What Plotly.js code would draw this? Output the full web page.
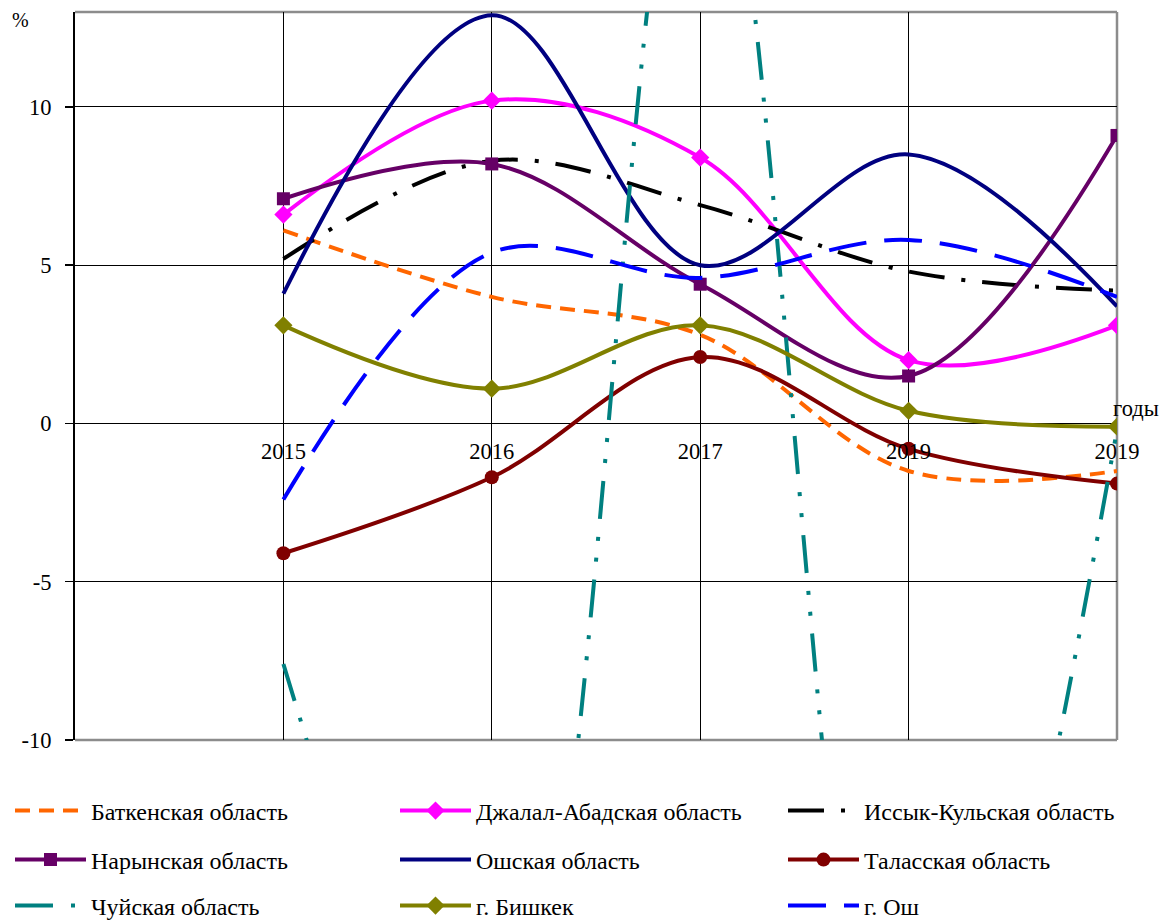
<!DOCTYPE html>
<html>
<head>
<meta charset="utf-8">
<script src="https://cdn.plot.ly/plotly-3.0.1.min.js"></script>
<style>
  html, body { margin: 0; padding: 0; background: #ffffff; }
  #chart { width: 1173px; height: 921px; }
</style>
</head>
<body>
<div id="chart"></div>
<script>
// Tick labels of the category axis (as printed in the source)
const years = ['2015', '2016', '2017', '2019', '2019'];

// Series values, %
const batken     = [6.1, 4.0, 2.8, -1.5, -1.5];
const jalalabad  = [6.6, 10.2, 8.4, 2.0, 3.1];
const issykkul   = [5.2, 8.3, 6.9, 4.8, 4.2];
const naryn      = [7.1, 8.2, 4.4, 1.5, 9.1];
const osh_obl    = [4.1, 12.9, 5.0, 8.5, 3.7];
const talas      = [-4.1, -1.7, 2.1, -0.8, -1.9];
const chui       = [-7.6, -23.0, 21.4, -26.0, -0.2];
const bishkek    = [3.1, 1.1, 3.1, 0.4, -0.1];
const osh_city   = [-2.4, 5.4, 4.6, 5.8, 4.0];

const seriesNames = [
  'Баткенская область', 'Джалал-Абадская область', 'Иссык-Кульская область',
  'Нарынская область', 'Ошская область', 'Таласская область',
  'Чуйская область', 'г. Бишкек', 'г. Ош'
];

const xIdx = years.map((_, i) => i + 1);
const FONT = "'Liberation Serif', 'Times New Roman', 'DejaVu Serif', serif";
const FS = 22.5;

// plot area in pixels (for placing layout elements)
const PL = 75, PR = 1117, PT = 12, PB = 740;
const px2x = p => (p - PL) / (PR - PL);
const px2y = p => (PB - p) / (PB - PT);

function tr(i, y, color, dash, marker) {
  const t = {
    type: 'scatter',
    x: xIdx, y: y, name: seriesNames[i],
    mode: marker ? 'lines+markers' : 'lines',
    line: { color: color, width: 4, shape: 'spline', smoothing: 1, dash: dash },
    legend: i === 0 ? 'legend' : 'legend' + (i + 1)
  };
  if (marker) t.marker = Object.assign({ color: color, line: { width: 0 } }, marker);
  return t;
}

const data = [
  tr(0, batken,    '#FF6600', '15px,9px', null),
  tr(1, jalalabad, '#FF00FF', 'solid', { symbol: 'diamond', size: 14 }),
  tr(2, issykkul,  '#000000', '36px,17px,4px,17px', null),
  tr(3, naryn,     '#660066', 'solid', { symbol: 'square', size: 13 }),
  tr(4, osh_obl,   '#000080', 'solid', null),
  tr(5, talas,     '#800000', 'solid', { symbol: 'circle', size: 14 }),
  tr(6, chui,      '#008080', '38px,18px,4px,17px,4px,18px', null),
  tr(7, bishkek,   '#808000', 'solid', { symbol: 'diamond', size: 14 }),
  tr(8, osh_city,  '#0000FF', '38px,18px', null),
  // empty helper trace so the overlay axes (labels at zero line, inner grid) are drawn
  { type: 'scatter', x: [], y: [], xaxis: 'x2', yaxis: 'y2', showlegend: false, hoverinfo: 'skip' }
];

const yMin = -10, yMax = 13;
const zeroFrac = (0 - yMin) / (yMax - yMin);

// legend grid: 3 columns (text start px) x 3 rows (centre px)
const colTextPx = [92, 477, 865];
const rowPx = [811, 860, 906];
const ITEMW = 71;

const layout = {
  width: 1173, height: 921,
  margin: { l: PL, r: 1173 - PR, t: PT, b: 921 - PB, autoexpand: false },
  paper_bgcolor: '#ffffff', plot_bgcolor: '#ffffff',
  font: { family: FONT, size: FS, color: '#000' },
  showlegend: true,
  xaxis: {
    range: [0, 5], tickvals: [1, 2, 3, 4], showticklabels: false, ticks: '',
    showgrid: true, gridcolor: '#000000', gridwidth: 1, zeroline: false, showline: false
  },
  xaxis2: {
    overlaying: 'x', anchor: 'free', position: zeroFrac, side: 'bottom',
    range: [0, 5], tickvals: xIdx, ticktext: years, ticks: '',
    ticklabelstandoff: 12,
    showgrid: false, zeroline: false, showline: false,
    tickfont: { family: FONT, size: FS, color: '#000' }
  },
  yaxis: {
    range: [yMin, yMax], tickvals: [-10, -5, 0, 5, 10], ticktext: ['-10', '-5', '0', '5', '10'],
    ticks: 'outside', ticklen: 8, tickwidth: 1.5, tickcolor: '#000',
    showgrid: false, zeroline: false,
    showline: true, linecolor: '#000', linewidth: 2,
    ticklabelstandoff: 9,
    tickfont: { family: FONT, size: FS, color: '#000' }
  },
  yaxis2: {
    overlaying: 'y', anchor: 'x2', range: [yMin, yMax], tickvals: [-5, 0, 5, 10],
    showticklabels: false, ticks: '', showgrid: true, gridcolor: '#000000', gridwidth: 1,
    zeroline: false, showline: false
  },
  shapes: [
    { type: 'line', xref: 'paper', yref: 'paper', x0: 0, x1: 1, y0: 1, y1: 1, line: { color: '#8c8c8c', width: 2.5 }, layer: 'below' },
    { type: 'line', xref: 'paper', yref: 'paper', x0: 1, x1: 1, y0: 0, y1: 1, line: { color: '#8c8c8c', width: 2.5 }, layer: 'below' },
    { type: 'line', xref: 'paper', yref: 'paper', x0: 0, x1: 1, y0: 0, y1: 0, line: { color: '#8c8c8c', width: 2.5 }, layer: 'below' }
  ],
  annotations: [
    { text: '%', xref: 'paper', yref: 'paper', x: px2x(20), y: px2y(20), xanchor: 'center', yanchor: 'middle',
      showarrow: false, font: { family: FONT, size: 20, color: '#000' } },
    { text: 'годы', xref: 'x', yref: 'y', x: 5, y: 0, xanchor: 'center', yanchor: 'bottom',
      xshift: 19, yshift: 0, showarrow: false, font: { family: FONT, size: FS, color: '#000' } }
  ]
};

seriesNames.forEach((_, i) => {
  const key = i === 0 ? 'legend' : 'legend' + (i + 1);
  const col = i % 3, row = Math.floor(i / 3);
  layout[key] = {
    orientation: 'v',
    x: px2x(colTextPx[col] - ITEMW - 11), xanchor: 'left',
    y: px2y(rowPx[row]), yanchor: 'middle',
    font: { family: FONT, size: 24, color: '#000' },
    bgcolor: 'rgba(0,0,0,0)', borderwidth: 0, itemwidth: ITEMW
  };
});

Plotly.newPlot('chart', data, layout, { displayModeBar: false, staticPlot: true });
</script>
</body>
</html>
